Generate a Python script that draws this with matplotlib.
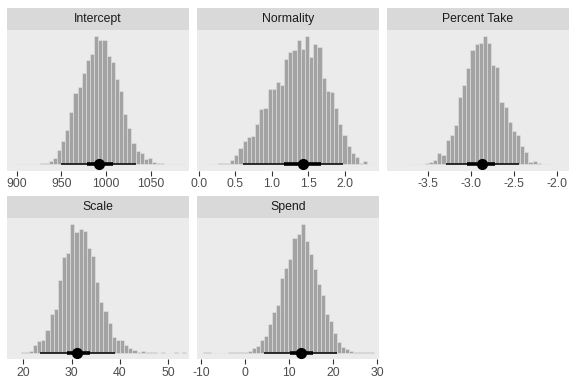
import matplotlib
matplotlib.use("Agg")
import matplotlib.pyplot as plt
import numpy as np

plt.rcParams['font.family'] = ['Liberation Sans', 'DejaVu Sans']

# parameter names (facet order)
names = ["Intercept", "Normality", "Percent Take", "Scale", "Spend"]

# histogram bins: left edge of first bin, bin width, counts
bin_start = [898.7, 0.084, -3.733, 19.44, -9.48]
bin_width = [4.63, 0.057, 0.0484, 0.857, 0.92]
counts = [
    [1, 0, 0, 0, 1, 1, 2, 4,
     10, 17, 43, 69, 102, 154, 211, 229, 272, 309, 328, 380, 369, 368, 322, 303,
     254, 217, 149, 107, 63, 40, 33, 15, 19, 7, 3,
     2, 1, 0, 1, 1, 1],
    [1, 0, 1, 2,
     3, 4, 11, 26, 48, 70, 80, 85, 120, 165, 167, 222, 223, 245, 235, 312, 334,
     340, 370, 343, 380, 320, 357, 347, 255, 218, 214, 168, 120, 88, 53, 33, 22,
     4, 8, 1],
    [1, 0, 1, 1,
     2, 7, 13, 32, 28, 73, 87, 117, 199, 237, 287, 339, 358, 361, 381, 360, 295,
     290, 185, 170, 125, 98, 86, 55, 35, 7, 8,
     2, 1, 0, 1],
    [1,
     1, 6, 23, 34, 39, 68, 114, 131, 217, 287, 299, 383, 361, 369, 364, 313, 288,
     210, 150, 123, 87, 48, 37, 37, 23, 15, 7, 3, 5,
     2, 1, 1, 0, 1, 0, 0, 1, 0, 1],
    [1, 1, 0, 0, 0, 0, 1, 1, 2,
     3, 2, 6, 15, 21, 37, 49, 86, 120, 142, 223, 252, 279, 341, 353, 383, 333,
     294, 249, 204, 173, 115, 95, 60, 33, 18, 12, 5, 3, 2,
     1, 1, 1],
]

# point + intervals (median, 66% and 95%)
median = [992, 1.42, -2.87, 31.07, 12.65]
lo66 = [978.8, 1.168, -3.043, 28.97, 10.15]
hi66 = [1008, 1.667, -2.72, 33.8, 15.44]
lo95 = [950, 0.607, -3.297, 23.45, 4.29]
hi95 = [1034, 1.977, -2.44, 38.97, 20.77]

# axis limits and ticks
xlims = [(889.2, 1092.8), (-0.027, 2.466), (-3.982, -1.856), (16.63, 54.3), (-10.9, 30.4)]
xticks = [[900, 950, 1000, 1050], [0, 0.5, 1, 1.5, 2], [-3.5, -3, -2.5, -2],
          [20, 30, 40, 50], [-10, 0, 10, 20, 30]]
xticklabels = [["900", "950", "1000", "1050"], ["0.0", "0.5", "1.0", "1.5", "2.0"],
               ["-3.5", "-3.0", "-2.5", "-2.0"], ["20", "30", "40", "50"],
               ["-10", "0", "10", "20", "30"]]

W, H = 576, 384
fig = plt.figure(figsize=(W / 100, H / 100), dpi=100)

col_left = [7, 197, 387]
panel_w = 182
rows = [(30, 170.5), (218, 359)]   # panel top, bottom in px
strip_h = 22.5

for i, name in enumerate(names):
    r, c = divmod(i, 3)
    top, bot = rows[r]
    x0 = col_left[c]
    ax = fig.add_axes([x0 / W, 1 - bot / H, panel_w / W, (bot - top) / H])
    sax = fig.add_axes([x0 / W, 1 - top / H, panel_w / W, strip_h / H])

    cnt = np.array(counts[i], dtype=float)
    dens = cnt / cnt.max()
    edges = bin_start[i] + bin_width[i] * np.arange(len(cnt))
    ax.set_facecolor("#EBEBEB")
    ax.bar(edges, dens, width=bin_width[i], align="edge", color="#A3A3A3",
           edgecolor="#E4E4E4", linewidth=0.4, zorder=2)

    ax.plot([lo95[i], hi95[i]], [0, 0], color="black", lw=1.1,
            solid_capstyle="butt", zorder=3)
    ax.plot([lo66[i], hi66[i]], [0, 0], color="black", lw=2.6,
            solid_capstyle="butt", zorder=4)
    ax.plot(median[i], 0, "o", color="black", ms=7, zorder=5)

    ax.set_xlim(*xlims[i])
    ax.set_ylim(-0.05, 1.05)
    ax.set_xticks(xticks[i])
    ax.set_xticklabels(xticklabels[i])
    ax.set_yticks([])
    ax.tick_params(axis="x", length=3.5, width=0.8, color="#333333",
                   labelsize=8.8, labelcolor="#4D4D4D", pad=2)
    for s in ax.spines.values():
        s.set_visible(False)

    sax.set_facecolor("#D9D9D9")
    sax.set_xticks([])
    sax.set_yticks([])
    for s in sax.spines.values():
        s.set_visible(False)
    sax.text(0.5, 0.5, name, ha="center", va="center", fontsize=8.8,
             color="#1A1A1A", transform=sax.transAxes)

fig.savefig("out.png", dpi=100)
